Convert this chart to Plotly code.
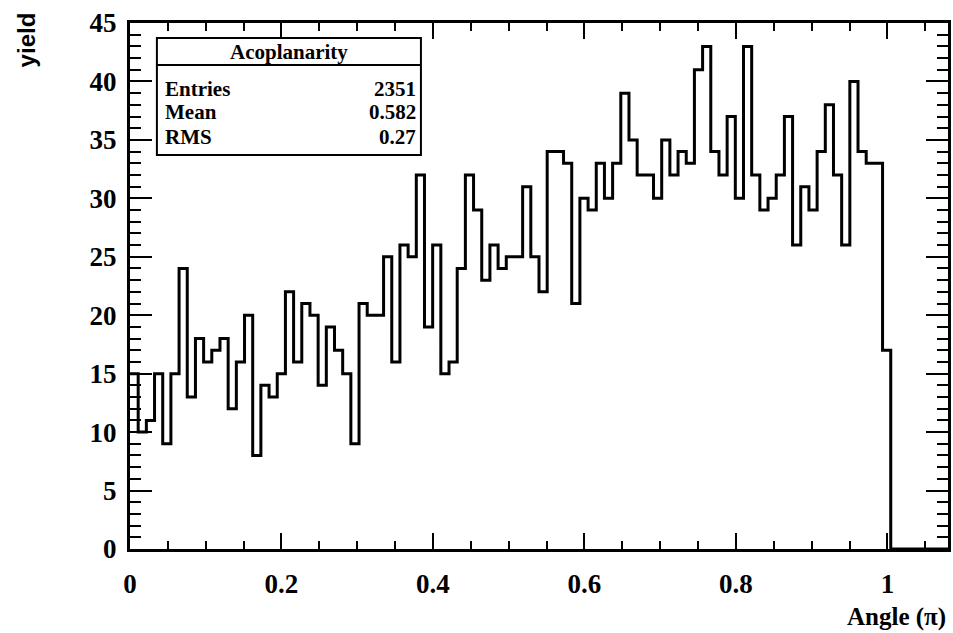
import numpy as np
import plotly.graph_objects as go

# ---- data ----
bin_low = 0.0
bin_high = 1.08
counts = [15, 10, 11, 15, 9, 15, 24, 13, 18, 16, 17, 18, 12, 16, 20, 8, 14, 13, 15, 22,
          16, 21, 20, 14, 19, 17, 15, 9, 21, 20, 20, 25, 16, 26, 25, 32, 19, 26, 15, 16,
          24, 32, 29, 23, 26, 24, 25, 25, 31, 25, 22, 34, 34, 33, 21, 30, 29, 33, 30,
          33, 39, 35, 32, 32, 30, 35, 32, 34, 33, 41, 43, 34, 32, 37, 30, 43, 32, 29, 30,
          32, 37, 26, 31, 29, 34, 38, 32, 26, 40, 34, 33, 33, 17,
          0, 0, 0, 0, 0, 0, 0]
stats_title = "Acoplanarity"
stats_labels = ["Entries", "Mean", "RMS"]
stats_values = ["2351", "0.582", "0.27"]
x_title = "Angle (π)"
y_title = "yield"
y_ticks = [0, 5, 10, 15, 20, 25, 30, 35, 40, 45]
x_ticks = [0, 0.2, 0.4, 0.6, 0.8, 1.0]
x_ticktext = ["0", "0.2", "0.4", "0.6", "0.8", "1"]

edges = np.linspace(bin_low, bin_high, len(counts) + 1)
xs = list(edges)
ys = list(counts) + [counts[-1]]

W, H = 953, 633
L, R, T, B = 130, 2, 23, 84
pw, ph = W - L - R, H - T - B

def px(x):
    return (x - L) / pw

def py(y):
    return (H - B - y) / ph

serif = "Liberation Serif"
fig = go.Figure()
fig.add_trace(go.Scatter(x=xs, y=ys, mode="lines", line=dict(shape="hv", color="black", width=3),
                         hoverinfo="skip", showlegend=False))

axis_common = dict(showline=True, linecolor="black", linewidth=3, mirror="allticks",
                   ticks="inside", tickcolor="black", tickwidth=2, showgrid=False,
                   zeroline=False,
                   tickfont=dict(family=serif, size=27, color="black", weight="bold"))

fig.update_xaxes(range=[bin_low, bin_high], tickvals=x_ticks, ticktext=x_ticktext, ticklen=16,
                 ticklabelstandoff=9,
                 minor=dict(dtick=0.05, ticklen=8, ticks="inside", tickwidth=2, tickcolor="black"),
                 **axis_common)
fig.update_yaxes(range=[0, 45], tickvals=y_ticks, ticklen=22, ticklabelstandoff=5,
                 minor=dict(dtick=1, ticklen=11, ticks="inside", tickwidth=2, tickcolor="black"),
                 **axis_common)

# stats box
bx0, bx1, by0, by1, bsep = 157, 422, 38, 155, 65
fig.add_shape(type="rect", xref="paper", yref="paper", x0=px(bx0), x1=px(bx1), y0=py(by1), y1=py(by0),
              line=dict(color="black", width=2), fillcolor="white", layer="above")
fig.add_shape(type="line", xref="paper", yref="paper", x0=px(bx0), x1=px(bx1), y0=py(bsep), y1=py(bsep),
              line=dict(color="black", width=2), layer="above")
fnt = dict(family=serif, size=21, color="black", weight="bold")
fig.add_annotation(text=stats_title, xref="paper", yref="paper", x=px((bx0 + bx1) / 2), y=py((by0 + bsep) / 2),
                   xanchor="center", yanchor="middle", showarrow=False, font=fnt)
row_y = [89, 112, 137]
for lab, val, yy in zip(stats_labels, stats_values, row_y):
    fig.add_annotation(text=lab, xref="paper", yref="paper", x=px(bx0 + 6), y=py(yy),
                       xanchor="left", yanchor="middle", showarrow=False, font=fnt)
    fig.add_annotation(text=val, xref="paper", yref="paper", x=px(bx1 - 3), y=py(yy),
                       xanchor="right", yanchor="middle", showarrow=False, font=fnt)

# axis titles
fig.add_annotation(text=x_title, xref="paper", yref="paper", x=px(951), y=py(617),
                   xanchor="right", yanchor="middle", showarrow=False,
                   font=dict(family=serif, size=25, color="black", weight="bold"))
fig.add_annotation(text=y_title, xref="paper", yref="paper", x=px(26), y=py(40),
                   xanchor="center", yanchor="middle", textangle=-90, showarrow=False,
                   font=dict(family="Liberation Sans", size=24, color="black", weight="bold"))

fig.update_layout(width=W, height=H, margin=dict(l=L, r=R, t=T, b=B),
                  paper_bgcolor="white", plot_bgcolor="white", showlegend=False)
fig.write_html("out.html")
